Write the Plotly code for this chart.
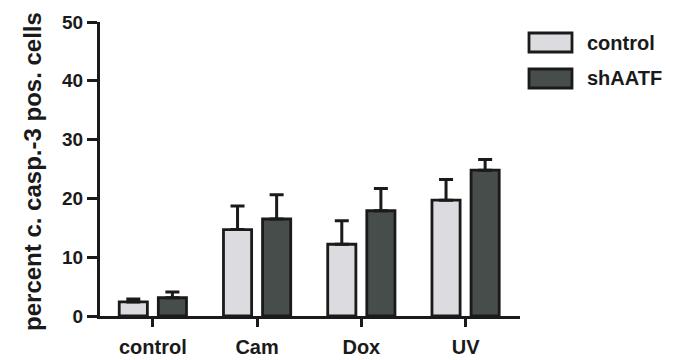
import plotly.graph_objects as go

# Treatment groups and measured apoptosis (mean and upper SEM)
categories = ["control", "Cam", "Dox", "UV"]
control_mean = [2.4, 14.7, 12.2, 19.7]
control_err = [0.5, 4.0, 4.0, 3.5]
shaatf_mean = [3.1, 16.5, 17.9, 24.8]
shaatf_err = [1.0, 4.1, 3.8, 1.8]
series_names = ["control", "shAATF"]
y_ticks = [0, 10, 20, 30, 40, 50]

INK = "#1a1a1a"
FILL_LIGHT = "#dcdce0"
FILL_DARK = "#464d4b"
FONT = "Liberation Sans, Arial, sans-serif"


def bar_trace(name, means, errs, fill):
    return go.Bar(
        name=name,
        x=categories,
        y=means,
        marker=dict(color=fill, line=dict(color=INK, width=2.8)),
        error_y=dict(
            type="data",
            symmetric=False,
            array=errs,
            arrayminus=[0] * len(errs),
            color=INK,
            thickness=3,
            width=7,
        ),
        showlegend=False,
    )


fig = go.Figure()
fig.add_trace(bar_trace(series_names[0], control_mean, control_err, FILL_LIGHT))
fig.add_trace(bar_trace(series_names[1], shaatf_mean, shaatf_err, FILL_DARK))

fig.update_layout(
    width=679,
    height=360,
    margin=dict(l=100, r=159, t=22, b=44),
    paper_bgcolor="white",
    plot_bgcolor="white",
    barmode="group",
    bargap=0.25,
    bargroupgap=0.28,
    xaxis=dict(
        range=[-0.507, 3.522],
        automargin=False,
        showline=True,
        linecolor=INK,
        linewidth=3,
        ticks="outside",
        ticklen=8,
        tickwidth=2.5,
        tickcolor=INK,
        tickfont=dict(family=FONT, size=20, color=INK, weight="bold"),
        ticklabelstandoff=3,
        showgrid=False,
        zeroline=False,
    ),
    yaxis=dict(
        range=[0, 50],
        automargin=False,
        tickvals=y_ticks,
        showline=True,
        linecolor=INK,
        linewidth=3,
        ticks="outside",
        ticklen=10,
        tickwidth=2.5,
        tickcolor=INK,
        tickfont=dict(family=FONT, size=19, color=INK, weight="bold"),
        showgrid=False,
        zeroline=False,
    ),
)

# Y-axis title
fig.add_annotation(
    text="percent c. casp.-3 pos. cells",
    xref="paper", yref="paper",
    x=0, y=0.49,
    xshift=-67,
    textangle=-90,
    showarrow=False,
    xanchor="center", yanchor="middle",
    font=dict(family=FONT, size=24, color=INK, weight="bold"),
)

# Legend drawn as outlined swatches with labels to the right of the plot
legend_items = [(series_names[0], FILL_LIGHT, -11, -30, -21),
                (series_names[1], FILL_DARK, -47, -66, -56)]
for label, fill, top, bottom, mid in legend_items:
    fig.add_shape(
        type="rect",
        xref="paper", yref="paper",
        xsizemode="pixel", ysizemode="pixel",
        xanchor=1, yanchor=1,
        x0=9, x1=52, y0=bottom, y1=top,
        fillcolor=fill,
        line=dict(color=INK, width=2.8),
    )
    fig.add_annotation(
        text=label,
        xref="paper", yref="paper",
        x=1, y=1,
        xshift=65, yshift=mid,
        showarrow=False,
        xanchor="left", yanchor="middle",
        font=dict(family=FONT, size=20, color=INK, weight="bold"),
    )

fig.write_html("out.html")
